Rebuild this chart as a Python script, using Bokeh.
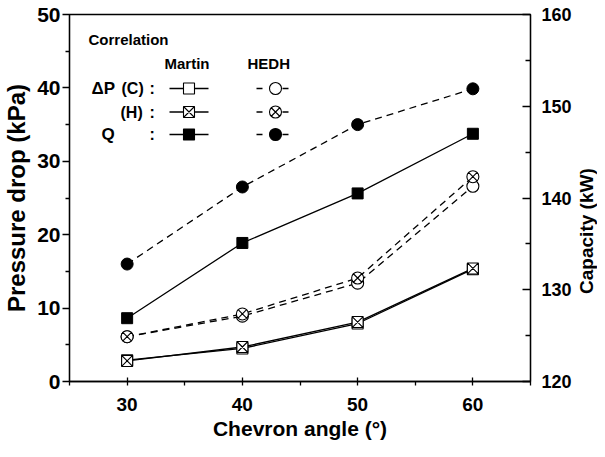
from math import pi
from bokeh.plotting import figure
from bokeh.layouts import row
from bokeh.models import Range1d, LinearAxis, FixedTicker, Label
from bokeh.embed import file_html
from bokeh.resources import INLINE

# ---------------- data ----------------
angles = [30, 40, 50, 60]
dp_martin_c = [2.9, 4.5, 7.9, 15.3]
dp_martin_h = [2.8, 4.7, 8.1, 15.4]
dp_hedh_c = [6.1, 8.9, 13.4, 26.6]
dp_hedh_h = [6.1, 9.2, 14.1, 27.9]
q_martin = [126.9, 135.1, 140.5, 147.0]
q_hedh = [132.8, 141.2, 148.0, 151.9]

x_ticks = [30, 40, 50, 60]
x_minor = [25, 35, 45, 55, 65]
dp_ticks = [0, 10, 20, 30, 40, 50]
dp_minor = [5, 15, 25, 35, 45]
cap_ticks = [120, 130, 140, 150, 160]
cap_minor = [125, 135, 145, 155]

x_title = "Chevron angle (°)"
y_title = "Pressure drop (kPa)"
y2_title = "Capacity (kW)"

FONT = "Liberation Sans"
LW = 1.3
DASH = "7 5"

# main plot: frame 461 x 367
BORDER_L, BORDER_R, BORDER_T, BORDER_B = 63, 42, 14, 60
p = figure(frame_width=461, frame_height=367,
           x_range=Range1d(25, 65), y_range=Range1d(0, 50),
           output_backend="svg", toolbar_location=None,
           min_border_left=BORDER_L, min_border_right=BORDER_R,
           min_border_top=BORDER_T, min_border_bottom=BORDER_B,
           background_fill_color="white", border_fill_color="white")
p.xgrid.visible = False
p.ygrid.visible = False
p.outline_line_color = "black"
p.outline_line_width = LW

p.extra_y_ranges = {"cap": Range1d(120, 160)}

# bottom axis
xa = p.xaxis[0]
xa.ticker = FixedTicker(ticks=x_ticks, minor_ticks=x_minor)
xa.major_tick_in = 4
xa.major_tick_out = 4
xa.minor_tick_in = 0
xa.minor_tick_out = 4
xa.major_label_standoff = 12
xa.major_label_text_font = FONT
xa.major_label_text_font_style = "bold"
xa.major_label_text_font_size = "19px"
xa.major_label_text_color = "black"
xa.axis_label = x_title
xa.axis_label_text_font = FONT
xa.axis_label_text_font_style = "bold"
xa.axis_label_text_font_size = "21px"
xa.axis_label_text_color = "black"
xa.axis_label_standoff = 3
xa.axis_line_width = LW
xa.major_tick_line_width = LW
xa.minor_tick_line_width = LW

# left axis
ya = p.yaxis[0]
ya.ticker = FixedTicker(ticks=dp_ticks, minor_ticks=dp_minor)
ya.major_tick_in = 0
ya.major_tick_out = 7
ya.minor_tick_in = 0
ya.minor_tick_out = 4
ya.major_label_standoff = 2
ya.major_label_text_font = FONT
ya.major_label_text_font_style = "bold"
ya.major_label_text_font_size = "21px"
ya.major_label_text_color = "black"
ya.axis_label = y_title
ya.axis_label_text_font = FONT
ya.axis_label_text_font_style = "bold"
ya.axis_label_text_font_size = "24px"
ya.axis_label_text_color = "black"
ya.axis_label_standoff = 4
ya.axis_line_width = LW
ya.major_tick_line_width = LW
ya.minor_tick_line_width = LW

# right axis
ra = LinearAxis(y_range_name="cap",
                ticker=FixedTicker(ticks=cap_ticks, minor_ticks=cap_minor))
ra.major_tick_in = 8
ra.major_tick_out = 0
ra.minor_tick_in = 5
ra.minor_tick_out = 0
ra.major_label_standoff = 11
ra.major_label_text_font = FONT
ra.major_label_text_font_style = "bold"
ra.major_label_text_font_size = "18px"
ra.major_label_text_color = "black"
ra.axis_line_width = LW
ra.major_tick_line_width = LW
ra.minor_tick_line_width = LW
p.add_layout(ra, "right")

# ---------------- series ----------------
p.line(angles, dp_martin_c, line_color="black", line_width=LW)
p.scatter(angles, dp_martin_c, marker="square", size=11, fill_color="white",
          line_color="black", line_width=1.1)
p.line(angles, dp_martin_h, line_color="black", line_width=LW)
p.scatter(angles, dp_martin_h, marker="square_x", size=11, fill_color="white",
          line_color="black", line_width=1.1)

p.line(angles, dp_hedh_c, line_color="black", line_width=LW, line_dash=DASH)
p.scatter(angles, dp_hedh_c, marker="circle", size=12, fill_color="white",
          line_color="black", line_width=1.1)
p.line(angles, dp_hedh_h, line_color="black", line_width=LW, line_dash=DASH)
p.scatter(angles, dp_hedh_h, marker="circle_x", size=12, fill_color="white",
          line_color="black", line_width=1.1)

p.line(angles, q_martin, line_color="black", line_width=LW, y_range_name="cap")
p.scatter(angles, q_martin, marker="square", size=11, fill_color="black",
          line_color="black", y_range_name="cap")
p.line(angles, q_hedh, line_color="black", line_width=LW, line_dash=DASH,
       y_range_name="cap")
p.scatter(angles, q_hedh, marker="circle", size=12, fill_color="black",
          line_color="black", y_range_name="cap")

# ---------------- helpers: page pixel -> data (for legend) ----------
def dx(px):
    return 25 + (px - 71) * 40.0 / 461.0

def dy(py):
    return (389 - py) * 50.0 / 367.0

def lab(text, px, py, size="15px", align="left", baseline="middle"):
    p.add_layout(Label(x=dx(px), y=dy(py), text=text, text_font=FONT,
                       text_font_style="bold", text_font_size=size,
                       text_align=align, text_baseline=baseline,
                       text_color="black"))

# legend texts
lab("Correlation", 90, 47, size="15px")
lab("Martin", 166, 71, size="15px")
lab("HEDH", 249, 71, size="15px")
lab("ΔP", 93, 96, size="17px")
lab("(C)", 123, 96, size="16px")
lab(":", 151, 96, size="16px")
lab("(H)", 122, 119.5, size="16px")
lab(":", 151, 119.5, size="16px")
lab("Q", 103, 142, size="17px")
lab(":", 151, 142, size="16px")

# legend samples
rows = [96, 119.5, 142]
m_markers = [("square", "white"), ("square_x", "white"), ("square", "black")]
h_markers = [("circle", "white"), ("circle_x", "white"), ("circle", "black")]
for r, (mk, fc) in zip(rows, m_markers):
    p.line([dx(171), dx(210)], [dy(r), dy(r)], line_color="black", line_width=LW)
    p.scatter([dx(190.5)], [dy(r)], marker=mk, size=11, fill_color=fc,
              line_color="black", line_width=1.1)
for r, (mk, fc) in zip(rows, h_markers):
    p.line([dx(258), dx(297)], [dy(r), dy(r)], line_color="black",
           line_width=LW, line_dash="6 7")
    p.scatter([dx(277)], [dy(r)], marker=mk, size=12, fill_color=fc,
              line_color="black", line_width=1.1)

# ---------------- right title strip ----------------
MAIN_W = BORDER_L + 461 + BORDER_R          # 566
MAIN_H = BORDER_T + 367 + BORDER_B          # 441
RIGHT_W = 589 - MAIN_W                      # 23

pr = figure(width=RIGHT_W, height=MAIN_H, x_range=Range1d(0, RIGHT_W),
            y_range=Range1d(0, MAIN_H), min_border=0, output_backend="svg",
            toolbar_location=None, background_fill_color="white",
            border_fill_color="white")
pr.axis.visible = False
pr.xgrid.visible = False
pr.ygrid.visible = False
pr.outline_line_color = None
pr.add_layout(Label(x=12, y=MAIN_H - (269 - 8), text=y2_title, text_font=FONT,
                    text_font_style="bold", text_font_size="19px",
                    text_align="center", text_baseline="middle",
                    text_color="black", angle=pi / 2))

layout = row(p, pr, spacing=0)

open("out.html", "w").write(file_html(layout, INLINE))
